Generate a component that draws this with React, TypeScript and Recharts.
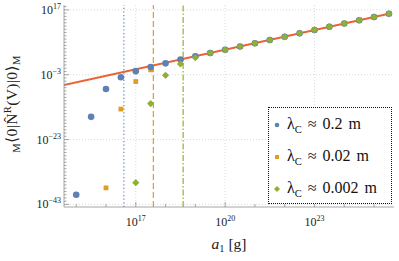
import React from 'react';
import {
  ComposedChart, Scatter, Line, XAxis, YAxis, ReferenceLine, Legend,
} from 'recharts';

// all values are log10 of the plotted quantity
const xTicks = [15, 16, 17, 18, 19, 20, 21, 22, 23, 24, 25];
const xMajor = [17, 20, 23];
const yTicks = Array.from({ length: 62 }, (_, i) => -43 + i);
const yMajor = [-43, -23, -3, 17];

const blueX = [15, 15.5, 16, 16.5, 17, 17.5, 18, 18.5, 19, 19.5, 20, 20.5, 21, 21.5, 22, 22.5, 23, 23.5, 24, 24.5, 25, 25.5];
const blueY = [-40, -16, -7.4, -3.8, -1.9, -0.6, 0.5, 1.7, 2.7, 3.7, 4.7, 5.7, 6.7, 7.7, 8.7, 9.8, 10.8, 11.8, 12.8, 13.8, 14.8, 15.8];

const orangeX = [16, 16.5, 17, 17.5, 18, 18.5, 19, 19.5, 20, 20.5, 21, 21.5, 22, 22.5, 23, 23.5, 24, 24.5, 25, 25.5];
const orangeY = [-37.9, -13.6, -5.1, -1.5, 0.5, 1.5, 2.7, 3.7, 4.7, 5.7, 6.7, 7.7, 8.7, 9.8, 10.8, 11.8, 12.8, 13.8, 14.8, 15.8];

const greenX = [17, 17.5, 18, 18.5, 19, 19.5, 20, 20.5, 21, 21.5, 22, 22.5, 23, 23.5, 24, 24.5, 25, 25.5];
const greenY = [-36.3, -11.9, -3.2, 0.3, 2.3, 3.7, 4.7, 5.7, 6.7, 7.7, 8.7, 9.8, 10.8, 11.8, 12.8, 13.8, 14.8, 15.8];

const fitX = [14.59, 25.46];
const fitY = [-6.2, 15.75];

// lambda_C thresholds (log10 a1)
const thresholds = [16.6, 17.59, 18.59];

const legendValues = ['0.2', '0.02', '0.002'];

const BLUE = '#5e81b5';
const ORANGE = '#e19c24';
const GREEN = '#8fb032';
const RED = '#eb6235';
const FRAME = '#8f8f8f';
const FONT = '"Liberation Serif", "DejaVu Serif", serif';

const zip = (xs: number[], ys: number[]) => xs.map((x, i) => ({ x, y: ys[i] }));
const blueData = zip(blueX, blueY);
const orangeData = zip(orangeX, orangeY);
const greenData = zip(greenX, greenY);
const fitData = zip(fitX, fitY);

const Pow = ({ exp }: { exp: number }) => (
  <>
    <tspan>10</tspan>
    <tspan dy={-5} fontSize={8}>{String(exp).replace('-', '−')}</tspan>
  </>
);

const BottomTick = ({ x, y, payload }: any) => {
  const major = xMajor.includes(payload.value);
  return (
    <g>
      <line x1={x} y1={y} x2={x} y2={y - (major ? 5 : 3)} stroke={FRAME} strokeWidth={0.8} />
      {major && (
        <text x={x} y={y + 19} textAnchor="middle" fontFamily={FONT} fontSize={12} fill="#222">
          <Pow exp={payload.value} />
        </text>
      )}
    </g>
  );
};

const TopTick = ({ x, y, payload }: any) => {
  const major = xMajor.includes(payload.value);
  return <line x1={x} y1={y} x2={x} y2={y + (major ? 5 : 3)} stroke={FRAME} strokeWidth={0.8} />;
};

const LeftTick = ({ x, y, payload }: any) => {
  const major = yMajor.includes(payload.value);
  return (
    <g>
      <line x1={x} y1={y} x2={x + (major ? 5 : 2.5)} y2={y} stroke={FRAME} strokeWidth={0.8} />
      {major && (
        <text x={x - 3} y={y + 4} textAnchor="end" fontFamily={FONT} fontSize={12} fill="#222">
          <Pow exp={payload.value} />
        </text>
      )}
    </g>
  );
};

const RightTick = ({ x, y, payload }: any) => {
  const major = yMajor.includes(payload.value);
  return <line x1={x} y1={y} x2={x - (major ? 5 : 2.5)} y2={y} stroke={FRAME} strokeWidth={0.8} />;
};

const Circle = ({ cx, cy }: any) => <circle cx={cx} cy={cy} r={3.3} fill={BLUE} />;
const Square = ({ cx, cy }: any) => <rect x={cx - 2.4} y={cy - 2.4} width={4.8} height={4.8} fill={ORANGE} />;
const Diamond = ({ cx, cy }: any) => (
  <polygon points={`${cx},${cy - 3.6} ${cx + 3.6},${cy} ${cx},${cy + 3.6} ${cx - 3.6},${cy}`} fill={GREEN} />
);

const legendMarks = [
  <svg width={8} height={8}><circle cx={4} cy={4} r={2.3} fill={BLUE} /></svg>,
  <svg width={8} height={8}><rect x={2} y={2} width={4} height={4} fill={ORANGE} /></svg>,
  <svg width={8} height={8}><polygon points="4,1 7,4 4,7 1,4" fill={GREEN} /></svg>,
];

const LegendBox = () => (
  <div
    style={{
      border: '1.3px dotted #111',
      background: '#fff',
      boxSizing: 'border-box',
      width: 124,
      height: 97,
      padding: '1px 0 0 4px',
      fontFamily: FONT,
      fontSize: 16,
      color: '#111',
    }}
  >
    {legendValues.map((v, i) => (
      <div key={v} style={{ display: 'flex', alignItems: 'center', height: 32, whiteSpace: 'nowrap' }}>
        {legendMarks[i]}
        <span style={{ marginLeft: 6, wordSpacing: 2 }}>
          λ<sub style={{ fontSize: 10.5 }}>C</sub>
          {' ≈ '}{v}{' m'}
        </span>
      </div>
    ))}
  </div>
);

const YLabel = ({ viewBox }: any) => {
  const cx = viewBox.x + 17;
  const cy = viewBox.y + viewBox.height / 2 - 2;
  return (
    <text
      x={cx} y={cy} transform={`rotate(-90 ${cx} ${cy})`} textAnchor="middle"
      fontFamily={FONT} fontSize={15.5} fill="#222" letterSpacing={0.4}
    >
      <tspan fontSize={10.5} dy={3}>M</tspan>
      <tspan dy={-3}>{'⟨0|'}</tspan>
      <tspan>{'N̂'}</tspan>
      <tspan fontSize={10.5} dy={-6}>R</tspan>
      <tspan dy={6}>{'(V)|0⟩'}</tspan>
      <tspan fontSize={10.5} dy={3}>M</tspan>
    </text>
  );
};

const XLabel = ({ viewBox }: any) => {
  const cx = viewBox.x + viewBox.width / 2;
  return (
    <text x={cx} y={viewBox.y + 42} textAnchor="middle" fontFamily={FONT} fontSize={15.5} fill="#222">
      <tspan fontStyle="italic">a</tspan>
      <tspan fontSize={10.5} dy={3}>1</tspan>
      <tspan dy={-3}>{' [g]'}</tspan>
    </text>
  );
};

export default function App() {
  return (
    <div style={{ position: 'relative', width: 399, height: 261, background: '#fff' }}>
      <style>{'body{margin:0}'}</style>
      <ComposedChart width={399} height={261} margin={{ top: 5, right: 5, left: 0, bottom: 0 }}>
        <XAxis
          type="number" dataKey="x" domain={[14.59, 25.67]} allowDataOverflow ticks={xTicks}
          height={54} tickSize={0} tickMargin={0} tickLine={false} tick={<BottomTick />}
          axisLine={{ stroke: FRAME, strokeWidth: 0.8 }} interval={0}
          label={{ content: (p: any) => <XLabel {...p} /> }}
        />
        <XAxis
          xAxisId="top" orientation="top" type="number" dataKey="x" domain={[14.59, 25.67]}
          allowDataOverflow ticks={xTicks} height={0} tickSize={0} tickMargin={0} tickLine={false}
          tick={<TopTick />} axisLine={{ stroke: FRAME, strokeWidth: 0.8 }} interval={0}
        />
        <YAxis
          type="number" dataKey="y" domain={[-43.8, 18.5]} allowDataOverflow ticks={yTicks}
          width={64} tickSize={0} tickMargin={0} tickLine={false} tick={<LeftTick />}
          axisLine={{ stroke: FRAME, strokeWidth: 0.8 }} interval={0}
          label={{ content: (p: any) => <YLabel {...p} /> }}
        />
        <YAxis
          yAxisId="right" orientation="right" type="number" dataKey="y" domain={[-43.8, 18.5]}
          allowDataOverflow ticks={yTicks} width={0} tickSize={0} tickMargin={0} tickLine={false}
          tick={<RightTick />} axisLine={{ stroke: FRAME, strokeWidth: 0.8 }} interval={0}
        />
        {xMajor.map((v) => (
          <ReferenceLine key={'gx' + v} x={v} stroke="#d0d0d0" strokeDasharray="1 2" strokeWidth={0.8} />
        ))}
        {yMajor.map((v) => (
          <ReferenceLine key={'gy' + v} y={v} stroke="#d0d0d0" strokeDasharray="1 2" strokeWidth={0.8} />
        ))}
        <ReferenceLine x={thresholds[0]} stroke={BLUE} strokeDasharray="1.2 2.4" strokeWidth={1.2} />
        <ReferenceLine x={thresholds[1]} stroke={ORANGE} strokeDasharray="6 3" strokeWidth={1.2} />
        <ReferenceLine x={thresholds[2]} stroke={GREEN} strokeDasharray="6 2 1.5 2" strokeWidth={1.2} />
        <Scatter data={orangeData} shape={<Square />} isAnimationActive={false} legendType="none" />
        <Scatter data={blueData} shape={<Circle />} isAnimationActive={false} legendType="none" />
        <Scatter data={greenData} shape={<Diamond />} isAnimationActive={false} legendType="none" />
        <Line
          data={fitData} dataKey="y" type="linear" stroke={RED} strokeWidth={2} dot={false}
          isAnimationActive={false} legendType="none"
        />
        <Legend
          layout="horizontal" verticalAlign="middle" align="center"
          wrapperStyle={{ left: 268, top: 107, width: 124, height: 97 }}
          content={() => <LegendBox />}
        />
      </ComposedChart>
    </div>
  );
}
